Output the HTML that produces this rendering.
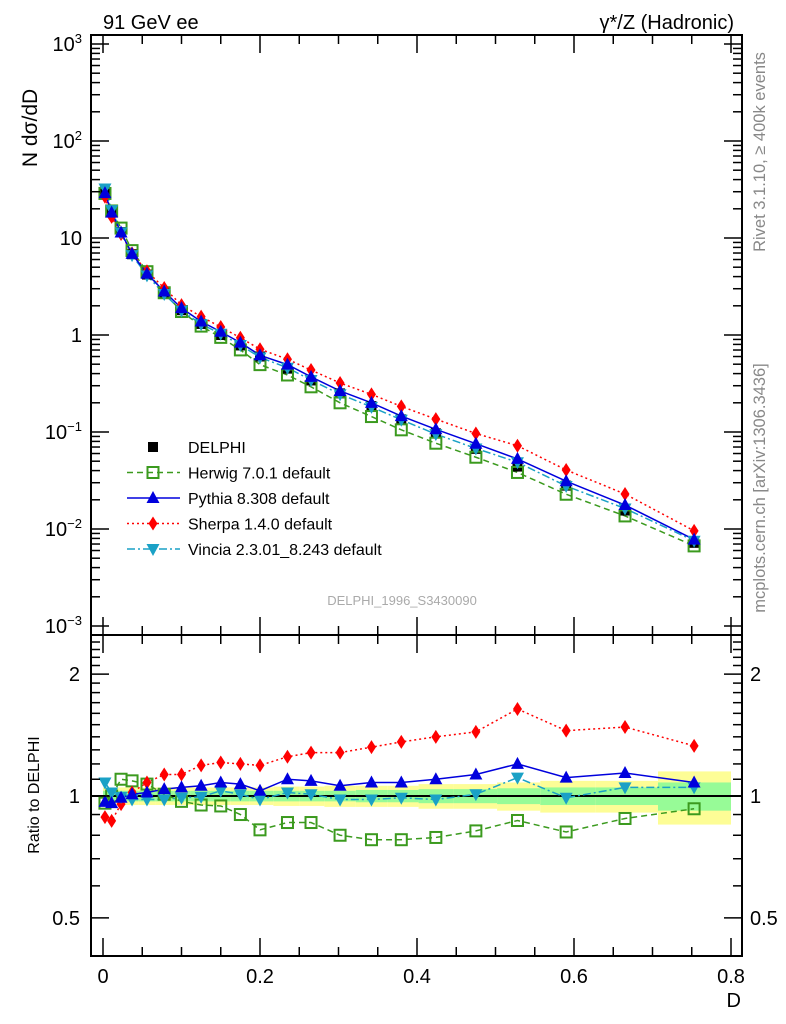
<!DOCTYPE html>
<html><head><meta charset="utf-8"><style>
body{margin:0;background:#fff}
svg{display:block;font-family:"Liberation Sans",sans-serif}
</style></head><body>
<svg id="chart" width="786" height="1024" viewBox="0 0 786 1024" xmlns="http://www.w3.org/2000/svg">
<g id="bands"></g><g id="main"></g><g id="ratio"></g><g id="axes"></g>
<text x="103" y="29" font-size="20">91 GeV ee</text>
<text x="734" y="29" font-size="20" text-anchor="end">γ*/Z (Hadronic)</text>
<text transform="translate(37,128) rotate(-90)" font-size="21" text-anchor="middle">N dσ/dD</text>
<text transform="translate(39,795) rotate(-90)" font-size="16" text-anchor="middle">Ratio to DELPHI</text>
<text x="741" y="1007" font-size="20" text-anchor="end">D</text>
<text transform="translate(765,152) rotate(-90)" font-size="16.5" fill="#888" text-anchor="middle">Rivet 3.1.10, ≥ 400k events</text>
<text transform="translate(765,488) rotate(-90)" font-size="16.5" fill="#888" text-anchor="middle">mcplots.cern.ch [arXiv:1306.3436]</text>
<text x="402" y="605" font-size="13" fill="#aaa" text-anchor="middle">DELPHI_1996_S3430090</text>
<g id="legend"></g>
</svg>
<script>
const xVals=[0.0025,0.011,0.023,0.037,0.056,0.078,0.10,0.125,0.15,0.175,0.2,0.235,0.265,0.302,0.342,0.38,0.424,0.475,0.528,0.59,0.665,0.753];
const dataVals=[30,19,11.5,6.8,4.2,2.7,1.8,1.3,1.0,0.78,0.6,0.45,0.34,0.25,0.185,0.135,0.097,0.067,0.044,0.028,0.0155,0.0072];
const herwigRatio=[0.96,1.0,1.10,1.09,1.07,1.01,0.97,0.95,0.945,0.90,0.825,0.86,0.86,0.80,0.78,0.78,0.79,0.82,0.87,0.815,0.88,0.93];
const pythiaRatio=[0.967,0.96,0.99,1.01,1.02,1.04,1.05,1.06,1.08,1.07,1.03,1.10,1.09,1.06,1.08,1.08,1.10,1.13,1.20,1.11,1.14,1.08];
const sherpaRatio=[0.887,0.868,0.955,1.02,1.08,1.13,1.13,1.19,1.21,1.20,1.19,1.25,1.28,1.28,1.32,1.36,1.40,1.44,1.64,1.45,1.48,1.33];
const vinciaRatio=[1.08,1.02,0.995,0.98,0.98,0.98,0.99,0.995,1.03,1.01,0.98,1.02,1.01,0.98,0.98,0.99,0.98,1.01,1.11,0.99,1.05,1.05];
const binEdges=[0,0.005,0.017,0.03,0.045,0.067,0.09,0.112,0.137,0.162,0.187,0.217,0.25,0.282,0.322,0.362,0.402,0.447,0.502,0.557,0.627,0.707,0.8];
const statErr=[0.03,0.03,0.03,0.03,0.03,0.03,0.03,0.03,0.03,0.03,0.03,0.03,0.03,0.03,0.035,0.035,0.04,0.04,0.045,0.05,0.05,0.08];
const totErr=[0.05,0.05,0.05,0.05,0.05,0.05,0.05,0.05,0.05,0.05,0.05,0.055,0.055,0.06,0.06,0.06,0.07,0.07,0.08,0.09,0.09,0.15];
const mainTicks=["10<tspan dy='-8' font-size='13'>3</tspan>","10<tspan dy='-8' font-size='13'>2</tspan>","10","1","10<tspan dy='-8' font-size='13'>−1</tspan>","10<tspan dy='-8' font-size='13'>−2</tspan>","10<tspan dy='-8' font-size='13'>−3</tspan>"];
const xTicks=[0,0.2,0.4,0.6,0.8];
const ratioTicks=[2,1,0.5];

const NS="http://www.w3.org/2000/svg";
const L=91,R=742,T=35,MB=635,RB=956;
const X=v=>103+785*v;
const Y=v=>335-97*Math.log10(v);
const YR=r=>796-405*Math.log10(r);
function mk(tag,attrs,parent){const e=document.createElementNS(NS,tag);for(const k in attrs)e.setAttribute(k,attrs[k]);parent.appendChild(e);return e;}
const gB=document.getElementById('bands'),gM=document.getElementById('main'),gR=document.getElementById('ratio'),gA=document.getElementById('axes'),gL=document.getElementById('legend');

for(let i=0;i<xVals.length;i++){
  const x0=Math.max(X(binEdges[i]),L+1),x1=X(binEdges[i+1]);
  let r=mk('rect',{x:x0,y:YR(1+totErr[i]),width:x1-x0,height:YR(1-totErr[i])-YR(1+totErr[i]),fill:'#fdfd96'},gB);
  
  
  let g=mk('rect',{x:x0,y:YR(1+statErr[i]),width:x1-x0,height:YR(1-statErr[i])-YR(1+statErr[i]),fill:'#97fb97'},gB);
  
  
}
mk('line',{x1:L,x2:R,y1:YR(1),y2:YR(1),stroke:'#000','stroke-width':2},gB);

function marker(type,x,y,color,parent){
  let e;
  if(type==='sq')e=mk('rect',{x:x-5,y:y-5,width:10,height:10,fill:'#000'},parent);
  else if(type==='osq')e=mk('rect',{x:x-5.5,y:y-5.5,width:11,height:11,fill:'none',stroke:color,'stroke-width':2},parent);
  else if(type==='up')e=mk('polygon',{points:`${x},${y-7} ${x-6.5},${y+5} ${x+6.5},${y+5}`,fill:color},parent);
  else if(type==='dn')e=mk('polygon',{points:`${x},${y+7} ${x-6.5},${y-5} ${x+6.5},${y-5}`,fill:color},parent);
  else e=mk('polygon',{points:`${x},${y-7} ${x-4.5},${y} ${x},${y+7} ${x+4.5},${y}`,fill:color},parent);
  return e;
}
const series=[
 {name:'herwig',ratio:herwigRatio,color:'#3b9a1e',dash:'6,4',type:'osq',w:1.5},
 {name:'sherpa',ratio:sherpaRatio,color:'#f00',dash:'2,3',type:'dia',w:1.5},
 {name:'vincia',ratio:vinciaRatio,color:'#1aa1c6',dash:'8,3,2,3',type:'dn',w:1.5},
 {name:'pythia',ratio:pythiaRatio,color:'#00d',dash:'',type:'up',w:1.5},
];
series.forEach(s=>{
  const ptsM=xVals.map((x,i)=>X(x)+','+Y(dataVals[i]*s.ratio[i])).join(' ');
  const pl=mk('polyline',{points:ptsM,fill:'none',stroke:s.color,'stroke-width':s.w,'stroke-dasharray':s.dash},gM);
  
  
  const ptsR=xVals.map((x,i)=>X(x)+','+YR(s.ratio[i])).join(' ');
  const pr=mk('polyline',{points:ptsR,fill:'none',stroke:s.color,'stroke-width':s.w,'stroke-dasharray':s.dash},gR);
  
  
});
xVals.forEach((x,i)=>{
  const d=marker('sq',X(x),Y(dataVals[i]),'#000',gM);
  
  
});
series.forEach(s=>{
  xVals.forEach((x,i)=>{
    const m=marker(s.type,X(x),Y(dataVals[i]*s.ratio[i]),s.color,gM);
    
    
    const r=marker(s.type,X(x),YR(s.ratio[i]),s.color,gR);
    
    
  });
});

mk('rect',{x:L,y:T,width:R-L,height:MB-T,fill:'none',stroke:'#000','stroke-width':2},gA);
mk('rect',{x:L,y:MB,width:R-L,height:RB-MB,fill:'none',stroke:'#000','stroke-width':2},gA);
for(let k=0;k<=16;k++){
  const v=k*0.05,x=X(v),len=(k%4===0)?18:9;
  [[T,1],[MB,-1],[MB,1],[RB,-1]].forEach(([y0,dir])=>mk('line',{x1:x,x2:x,y1:y0,y2:y0+dir*len,stroke:'#000','stroke-width':1.5},gA));
}
xTicks.forEach(v=>{
  const t=mk('text',{x:X(v),y:983,'font-size':20,'text-anchor':'middle'},gA);t.textContent=v===0?'0':v.toFixed(1);
  
  
});
for(let e=-3;e<=3;e++){
  for(let m=1;m<=9;m++){
    const v=m*Math.pow(10,e),y=Y(v);
    if(y<T||y>MB)continue;
    const len=m===1?18:9;
    mk('line',{x1:L,x2:L+len,y1:y,y2:y,stroke:'#000','stroke-width':1.5},gA);
    mk('line',{x1:R,x2:R-len,y1:y,y2:y,stroke:'#000','stroke-width':1.5},gA);
  }
}
mainTicks.forEach((lab,i)=>{
  const t=mk('text',{x:82,y:Y(Math.pow(10,3-i))+7,'font-size':20,'text-anchor':'end'},gA);
  t.innerHTML=lab;
  
  
});
for(let k=4;k<=25;k++){
  const v=k/10,y=YR(v);
  if(y<MB||y>RB)continue;
  const len=(v===0.5||v===1||v===2)?18:9;
  mk('line',{x1:L,x2:L+len,y1:y,y2:y,stroke:'#000','stroke-width':1.5},gA);
  mk('line',{x1:R,x2:R-len,y1:y,y2:y,stroke:'#000','stroke-width':1.5},gA);
}
ratioTicks.forEach(v=>{
  const a=mk('text',{x:80,y:YR(v)+7,'font-size':20,'text-anchor':'end'},gA);a.textContent=String(v);
  
  
  const b=mk('text',{x:750,y:YR(v)+7,'font-size':20},gA);b.textContent=String(v);
  
  
});
const legNames=['DELPHI','Herwig 7.0.1 default','Pythia 8.308 default','Sherpa 1.4.0 default','Vincia 2.3.01_8.243 default'];
const legStyle=[null,series[0],series[3],series[1],series[2]];
legNames.forEach((n,i)=>{
  const y=447+i*25.5;
  const s=legStyle[i];
  if(s){
    const ln=mk('line',{x1:127,x2:180,y1:y,y2:y,stroke:s.color,'stroke-width':1.5,'stroke-dasharray':s.dash},gL);
    
    
    marker(s.type,153,y,s.color,gL);
  } else marker('sq',153,y,'#000',gL);
  const t=mk('text',{x:188,y:y+6,'font-size':16},gL);t.textContent=n;
  
  
});
</script>
</body></html>
